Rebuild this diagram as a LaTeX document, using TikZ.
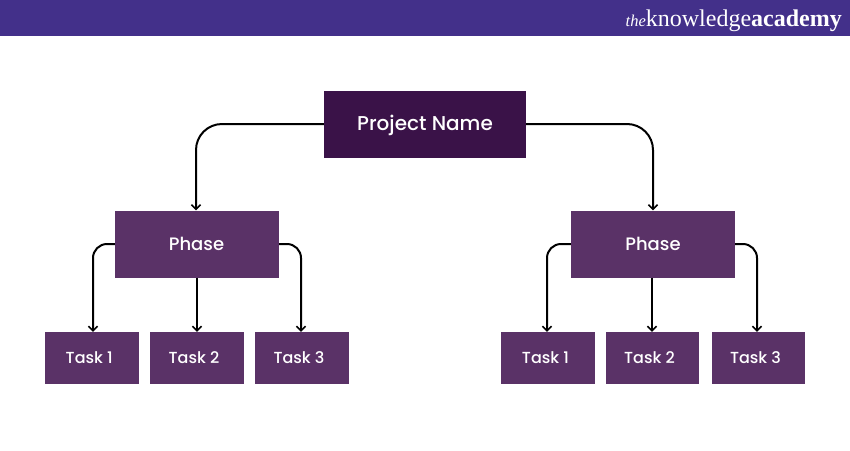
\documentclass[tikz,border=0pt]{standalone}
\usepackage{fontspec}
\setmainfont{Poppins}[UprightFont=* Medium]
\newfontfamily\logofont{Liberation Serif}
\usetikzlibrary{arrows.meta}
\definecolor{headbar}{HTML}{43308A}
\definecolor{rootfill}{HTML}{3A1248}
\definecolor{boxfill}{HTML}{5A3267}
\tikzset{
  box/.style={fill=#1,text=white,inner sep=0pt,anchor=center,align=center},
  rootbox/.style={box=rootfill,minimum width=202pt,minimum height=67pt,text height=12pt,text depth=0pt,font=\fontsize{20}{20}\selectfont},
  phasebox/.style={box=boxfill,minimum width=164pt,minimum height=67pt,font=\fontsize{18}{18}\selectfont},
  taskbox/.style={box=boxfill,minimum width=93.5pt,minimum height=51.5pt,font=\fontsize{16}{16}\selectfont},
  link/.style={draw=black,line width=2pt,-{Straight Barb[length=4.5pt,width=9pt,line width=1.6pt]}},
  bigbend/.style={link,rounded corners=26pt},
  smallbend/.style={link,rounded corners=14pt},
}
\begin{document}
\begin{tikzpicture}[x=1pt,y=-1pt]
\useasboundingbox (0,0) rectangle (850,450);
\fill[headbar] (0,0) rectangle (850,36);
\node[text=white,anchor=east,inner sep=0pt,font=\logofont] (logo) at (842,21)
  {{\fontsize{16.5}{17}\selectfont\itshape the}{\fontsize{24}{24}\selectfont knowledge\textbf{academy}}};
\node[rootbox] (root) at (425,124) {Project Name};
\node[phasebox] (p1) at (197,244) {Phase\kern1pt};
\node[phasebox] (p2) at (653,244) {Phase};
\node[taskbox] (t1) at (91.75,357.75) {Task 1\kern5pt};
\node[taskbox] (t2) at (197,357.75) {Task 2\kern6pt};
\node[taskbox] (t3) at (302,357.75) {Task 3\kern6pt};
\node[taskbox] (t4) at (548,357.75) {Task 1\kern5pt};
\node[taskbox] (t5) at (652.5,357.75) {Task 2\kern6pt};
\node[taskbox] (t6) at (758.5,357.75) {Task 3\kern6pt};
\draw[bigbend] (root.west) -| ([xshift=-1pt]p1.north);
\draw[bigbend] (root.east) -| (p2.north);
\draw[smallbend] (p1.west) -| ([xshift=1.25pt]t1.north);
\draw[link] (p1.south) -- (t2.north);
\draw[smallbend] (p1.east) -| ([xshift=-1pt]t3.north);
\draw[smallbend] (p2.west) -| ([xshift=-1pt]t4.north);
\draw[link] ([xshift=-1pt]p2.south) -- ([xshift=-.5pt]t5.north);
\draw[smallbend] (p2.east) -| ([xshift=-1.5pt]t6.north);
\end{tikzpicture}
\end{document}
